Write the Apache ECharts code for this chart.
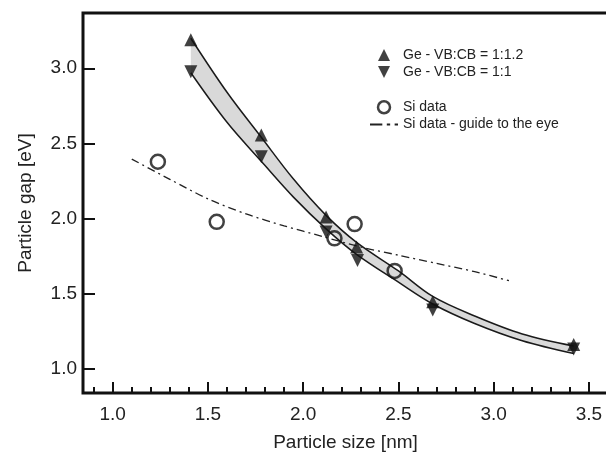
<!DOCTYPE html>
<html>
<head>
<meta charset="utf-8">
<script src="https://cdn.jsdelivr.net/npm/echarts@6/dist/echarts.min.js"></script>
<style>
html, body { margin: 0; padding: 0; background: #fff; }
#chart { width: 606px; height: 455px; }
</style>
</head>
<body>
<div id="chart"></div>
<script>
// Ge data, two valence/conduction band ratios
var geUpSize = [1.41, 1.78, 2.12, 2.28, 2.68, 3.42];
var geUpGap = [3.19, 2.555, 2.01, 1.81, 1.444, 1.16];
var geDownSize = [1.41, 1.78, 2.12, 2.285, 2.68, 3.42];
var geDownGap = [2.977, 2.41, 1.91, 1.72, 1.39, 1.13];

// Si data + guide to the eye
var siSize = [1.237, 1.546, 2.164, 2.27, 2.48];
var siGap = [2.377, 1.977, 1.867, 1.962, 1.65];
var guideSize = [1.1, 1.3, 1.5, 1.7, 1.9, 2.1, 2.3, 2.5, 2.7, 2.9, 3.08];
var guideGap = [2.395, 2.26, 2.13, 2.03, 1.95, 1.88, 1.81, 1.755, 1.70, 1.645, 1.585];

// grey band between the two Ge fits
var bandSize = [1.41, 1.6, 1.78, 1.95, 2.12, 2.28, 2.5, 2.68, 2.9, 3.15, 3.42];
var bandUpper = [3.20, 2.84, 2.54, 2.26, 2.02, 1.84, 1.65, 1.48, 1.35, 1.23, 1.15];
var bandLower = [2.97, 2.64, 2.38, 2.14, 1.93, 1.76, 1.575, 1.43, 1.30, 1.185, 1.10];

var xTicks = [1.0, 1.5, 2.0, 2.5, 3.0, 3.5];
var yTicks = [1.0, 1.5, 2.0, 2.5, 3.0];
var xMin = 0.844, xMax = 3.6, yMin = 0.837, yMax = 3.368;

function pairs(xs, ys) {
    return xs.map(function (x, i) { return [x, ys[i]]; });
}

var font = 'Liberation Sans, Arial, sans-serif';
var ink = '#111';
var upTri = 'path://M5,0L10,10L0,10Z';
var downTri = 'path://M0,0L10,0L5,10Z';
var dashDot = 'path://M0,0h11v1.6h-11z M15,0h3v1.6h-3z M22,0h3v1.6h-3z';
var last = bandSize.length - 1;

var myChart = echarts.init(document.getElementById('chart'));
var option = {
    animation: false,
    backgroundColor: '#fff',
    textStyle: { fontFamily: font },
    grid: {
        left: 83, right: -2, top: 13, bottom: 62,
        outerBoundsMode: 'none',
        show: true, borderWidth: 3, borderColor: ink,
        backgroundColor: 'transparent', z: 10
    },
    legend: [{
        // path icons only fill the middle of the item box, so the box is shifted
        orient: 'vertical', left: 378, top: 48, padding: 0,
        itemWidth: 28, itemHeight: 12, itemGap: 3,
        textStyle: { fontSize: 14, color: '#222', fontFamily: font },
        data: [
            { name: 'Ge - VB:CB = 1:1.2', icon: upTri },
            { name: 'Ge - VB:CB = 1:1', icon: downTri }
        ]
    }, {
        orient: 'vertical', left: 370, top: 100, padding: 0,
        itemWidth: 28, itemHeight: 12, itemGap: 3,
        textStyle: { fontSize: 14, color: '#222', fontFamily: font },
        data: [
            { name: 'Si data', icon: 'circle', itemStyle: { color: '#fff', borderColor: ink, borderWidth: 2.5 } },
            { name: 'Si data - guide to the eye', icon: dashDot, itemStyle: { color: '#222', borderWidth: 0 } }
        ]
    }],
    xAxis: [{
        type: 'value', min: xMin, max: xMax,
        minInterval: 0.5, maxInterval: 0.5, z: 10,
        name: 'Particle size [nm]', nameLocation: 'middle', nameGap: 40,
        nameTextStyle: { fontSize: 19, color: '#222', fontFamily: font },
        axisLine: { show: false },
        splitLine: { show: false },
        axisTick: { inside: true, length: 11, lineStyle: { color: ink, width: 2 } },
        axisLabel: {
            showMinLabel: false, showMaxLabel: false,
            fontSize: 19, color: '#222', margin: 12, fontFamily: font,
            formatter: function (v) { return xTicks.indexOf(v) > -1 ? v.toFixed(1) : ''; }
        }
    }, {
        // minor ticks every 0.1
        type: 'value', min: xMin, max: xMax, position: 'bottom',
        minInterval: 0.1, maxInterval: 0.1, z: 10,
        axisLine: { show: false },
        splitLine: { show: false },
        axisLabel: { show: false },
        axisTick: { inside: true, length: 6, lineStyle: { color: ink, width: 2 } }
    }],
    yAxis: {
        type: 'value', min: yMin, max: yMax,
        minInterval: 0.5, maxInterval: 0.5, z: 10,
        name: 'Particle gap [eV]', nameLocation: 'middle', nameGap: 48,
        nameTextStyle: { fontSize: 19, color: '#222', fontFamily: font },
        axisLine: { show: false },
        splitLine: { show: false },
        axisTick: { inside: true, length: 12, lineStyle: { color: ink, width: 2 } },
        axisLabel: {
            showMinLabel: false, showMaxLabel: false,
            fontSize: 19, color: '#222', margin: 6, fontFamily: font,
            formatter: function (v) { return yTicks.indexOf(v) > -1 ? v.toFixed(1) : ''; }
        }
    },
    series: [{
        name: 'band upper', type: 'line', smooth: 0.35, symbol: 'none', z: 3,
        data: pairs(bandSize, bandUpper),
        lineStyle: { color: '#1a1a1a', width: 1.5 },
        areaStyle: { color: '#d9d9d9', opacity: 1, origin: 'start' }
    }, {
        name: 'band lower', type: 'line', smooth: 0.35, symbol: 'none', z: 3,
        data: pairs(bandSize, bandLower),
        lineStyle: { color: '#1a1a1a', width: 1.5 },
        areaStyle: { color: '#fff', opacity: 1, origin: 'start' }
    }, {
        // hide the antialiased grey seam left at both ends of the band
        name: 'mask left', type: 'line', symbol: 'none', z: 3,
        data: [[bandSize[0], yMin], [bandSize[0], bandLower[0] - 0.02]],
        lineStyle: { color: '#fff', width: 2 }
    }, {
        name: 'mask right', type: 'line', symbol: 'none', z: 3,
        data: [[bandSize[last], yMin], [bandSize[last], bandLower[last] - 0.02]],
        lineStyle: { color: '#fff', width: 2 }
    }, {
        name: 'Si data - guide to the eye', type: 'line', smooth: 0.3, symbol: 'none', z: 4,
        data: pairs(guideSize, guideGap),
        lineStyle: { color: '#222', width: 1.3, type: [8, 4, 2, 4] }
    }, {
        name: 'Si data', type: 'scatter', symbol: 'circle', symbolSize: 14, z: 5,
        data: pairs(siSize, siGap),
        itemStyle: { color: 'rgba(255,255,255,0)', borderColor: ink, borderWidth: 2.5 }
    }, {
        name: 'Ge - VB:CB = 1:1.2', type: 'scatter', symbol: upTri, symbolSize: 13, z: 5,
        data: pairs(geUpSize, geUpGap),
        itemStyle: { color: ink }
    }, {
        name: 'Ge - VB:CB = 1:1', type: 'scatter', symbol: downTri, symbolSize: 13, z: 5,
        data: pairs(geDownSize, geDownGap),
        itemStyle: { color: ink }
    }]
};
myChart.setOption(option);
</script>
</body>
</html>
